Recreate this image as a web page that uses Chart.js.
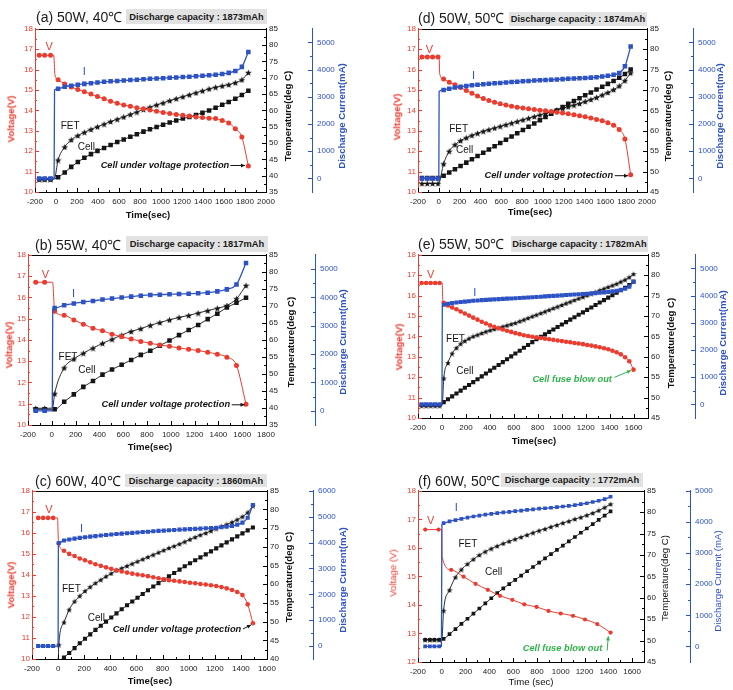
<!DOCTYPE html>
<html><head><meta charset="utf-8">
<script src="https://cdn.jsdelivr.net/npm/chart.js@4.4.1/dist/chart.umd.min.js"></script>
<style>
html,body{margin:0;padding:0;background:#fff}
body{position:relative;width:733px;height:690px;overflow:hidden;font-family:'Liberation Sans',Arial,sans-serif}
canvas{position:absolute}
.lbl{position:absolute;white-space:nowrap;line-height:1}
.rot{transform:translate(-50%,-50%) rotate(-90deg);font-weight:bold;font-size:9.6px}
.ctr{transform:translate(-50%,-50%);font-weight:bold;font-size:9.6px}
.ttl{font-size:14px;color:#1a1a1a;transform:translateY(-50%)}
.cap{position:absolute;background:#e2e2e2;font-weight:bold;font-size:9.3px;color:#1a1a1a;display:flex;align-items:center;justify-content:center;white-space:nowrap}
</style></head><body>
<script>
// ---------- tick labels ----------
const xTicks2000 = [-200,0,200,400,600,800,1000,1200,1400,1600,1800,2000];
const xTicks1800 = [-200,0,200,400,600,800,1000,1200,1400,1600,1800];
const xTicks1600 = [-200,0,200,400,600,800,1000,1200,1400,1600];
const voltTicks10 = [10,11,12,13,14,15,16,17,18];
const voltTicks12 = [12,13,14,15,16,17,18];
const tempTicks35 = [35,40,45,50,55,60,65,70,75,80,85];
const tempTicks40 = [40,45,50,55,60,65,70,75,80,85];
const tempTicks45 = [45,50,55,60,65,70,75,80,85];
const currTicks5000 = [0,1000,2000,3000,4000,5000];
const currTicks6000 = [0,1000,2000,3000,4000,5000,6000];

// ---------- (a) 50W, 40C ----------
const aPreTime = [-160,-108,-52];
const aPreVolt = [16.7,16.7,16.7];
const aPreCurr = [0,0,0];
const aPreFet = [38.9,38.9,38.9];
const aPreCell = [38.9,38.9,38.9];
const aVoltJump = [[-22,16.7],[-10,15.75]];
const aCurrJump = [[-18,0],[-14,3250]];
const aFetJump = [[-15,39.1]];
const aCellJump = [[-15,39.0]];
const aTime = [20,83,145,208,270,333,395,458,520,583,645,708,770,833,895,958,1020,1083,1145,1208,1270,1333,1395,1458,1520,1583,1645,1708,1770,1832];
const aVolt = [15.5,15.3,15.15,15.02,14.92,14.8,14.68,14.57,14.45,14.35,14.27,14.2,14.13,14.08,14.02,13.96,13.9,13.85,13.8,13.76,13.72,13.68,13.65,13.62,13.6,13.5,13.38,13.1,12.7,11.28];
const aCurr = [3300,3370,3410,3445,3475,3500,3525,3550,3570,3585,3600,3615,3630,3645,3660,3675,3685,3700,3710,3725,3740,3755,3770,3790,3810,3840,3880,3950,4100,4650];
const aFet = [44.8,48.8,51.0,52.3,53.3,54.2,55.0,55.8,56.6,57.3,58.0,58.8,59.5,60.3,61.0,61.7,62.3,63.0,63.6,64.2,64.8,65.4,66.0,66.6,67.1,67.5,67.9,68.5,69.4,71.6];
const aCell = [39.5,41.0,42.7,44.2,45.5,46.6,47.6,48.5,49.4,50.3,51.1,51.9,52.7,53.5,54.2,54.9,55.6,56.3,56.9,57.5,58.0,58.6,59.3,60.0,60.8,61.7,62.6,63.6,64.7,66.0];

// ---------- (b) 55W, 40C ----------
const bPreTime = [-135,-60];
const bPreVolt = [16.71,16.71];
const bPreCurr = [0,0];
const bPreFet = [39.9,39.9];
const bPreCell = [39.6,39.6];
const bVoltJump = [[7,16.71]];
const bCurrJump = [[4,0],[8,3600]];
const bFetJump = [[6,40.0]];
const bCellJump = [];
const bTime = [24,104,185,265,346,426,506,587,667,748,828,908,989,1069,1150,1230,1310,1391,1471,1552,1632];
const bVolt = [15.35,15.16,14.94,14.74,14.55,14.43,14.27,14.15,14.04,13.93,13.84,13.76,13.7,13.62,13.56,13.5,13.42,13.33,13.19,12.8,10.98];
const bCurr = [3620,3724,3782,3840,3875,3921,3956,3991,4026,4060,4084,4095,4107,4118,4130,4141,4165,4211,4281,4455,5209];
const bFet = [44.2,51.8,54.4,56.1,57.6,59.0,60.2,61.4,62.5,63.3,64.3,65.1,65.9,66.6,67.2,67.9,68.6,69.3,70.1,72.1,76.0];
const bCell = [39.6,41.8,44.0,46.2,47.9,49.8,51.3,52.7,54.1,55.6,56.8,58.3,59.8,61.4,62.9,64.4,66.1,67.7,69.5,70.9,72.4];

// ---------- (c) 60W, 40C ----------
const cPreTime = [-153,-115,-77,-38];
const cPreVolt = [16.71,16.71,16.71,16.71];
const cPreCurr = [0,0,0,0];
const cPreFet = [38,38,38,38];
const cPreCell = [38,38,38,38];
const cVoltJump = [[-4,16.71],[1,15.75]];
const cCurrJump = [[0,0],[2,3900]];
const cFetJump = [[0,38.5]];
const cCellJump = [];
const cTime = [5,45,85,126,166,206,246,286,327,367,407,447,487,528,568,608,648,688,729,769,809,849,889,930,970,1010,1050,1090,1131,1171,1211,1251,1291,1332,1372,1412,1452,1492];
const cVolt = [15.5,15.15,15.0,14.9,14.78,14.7,14.6,14.51,14.43,14.36,14.29,14.22,14.16,14.11,14.06,14.02,13.98,13.94,13.89,13.84,13.79,13.75,13.72,13.69,13.66,13.63,13.6,13.57,13.54,13.51,13.47,13.42,13.36,13.28,13.19,13.04,12.6,11.7];
const cCurr = [3985,4080,4120,4150,4180,4205,4230,4250,4270,4290,4310,4330,4345,4360,4375,4390,4405,4420,4435,4450,4462,4474,4486,4498,4510,4520,4530,4540,4550,4560,4572,4590,4610,4640,4690,4770,4960,5450];
const cFet = [43.8,49.8,53.2,55.4,56.9,58.2,59.3,60.3,61.2,62.1,62.9,63.7,64.3,64.9,65.5,66.1,66.7,67.3,67.9,68.5,69.1,69.7,70.2,70.8,71.4,72.0,72.6,73.2,73.7,74.3,74.9,75.5,76.0,76.6,77.3,78.1,79.2,81.0];
const cCell = [39.4,40.4,41.6,42.9,44.2,45.4,46.6,47.8,48.9,50.0,51.1,52.2,53.3,54.4,55.4,56.4,57.4,58.4,59.4,60.3,61.2,62.1,63.0,63.9,64.8,65.6,66.4,67.2,68.0,68.8,69.6,70.4,71.2,72.0,72.8,73.6,74.4,75.2];

// ---------- (d) 50W, 50C ----------
const dPreTime = [-162,-111,-60,-8];
const dPreVolt = [16.62,16.62,16.62,16.62];
const dPreCurr = [0,0,0,0];
const dPreFet = [47.1,47.1,47.1,47.1];
const dPreCell = [48.4,48.4,48.4,48.4];
const dVoltJump = [[3,16.62],[8,15.8]];
const dCurrJump = [[0,0],[3,3200]];
const dFetJump = [[3,47.3]];
const dCellJump = [];
const dTime = [46,100,155,209,264,318,372,427,481,536,590,645,699,753,808,862,917,971,1025,1080,1134,1189,1243,1298,1352,1406,1461,1515,1570,1624,1679,1733,1788,1843];
const dVolt = [15.54,15.38,15.26,15.12,14.98,14.84,14.7,14.58,14.48,14.4,14.32,14.26,14.2,14.16,14.12,14.08,14.04,14.01,13.98,13.95,13.91,13.87,13.83,13.79,13.74,13.69,13.63,13.56,13.49,13.4,13.27,13.06,12.6,10.85];
const dCurr = [3250,3300,3340,3370,3400,3425,3445,3465,3480,3495,3510,3525,3540,3555,3570,3585,3598,3610,3620,3630,3640,3650,3660,3670,3680,3690,3705,3720,3745,3770,3810,3870,4120,4850];
const dFet = [51.9,55.0,56.6,57.6,58.3,58.9,59.4,59.9,60.3,60.7,61.1,61.5,61.9,62.3,62.7,63.1,63.5,63.9,64.3,64.7,65.1,65.5,65.9,66.3,66.7,67.2,67.7,68.2,68.8,69.4,70.1,71.0,72.3,74.2];
const dCell = [49.0,49.8,50.6,51.4,52.2,53.0,53.8,54.6,55.4,56.2,57.0,57.8,58.6,59.4,60.2,61.0,61.8,62.6,63.4,64.2,65.0,65.8,66.6,67.3,68.0,68.7,69.4,70.1,70.8,71.5,72.2,73.0,73.9,75.0];

// ---------- (e) 55W, 50C ----------
const ePreTime = [-170,-132,-95,-57,-20];
const ePreVolt = [16.62,16.62,16.62,16.62,16.62];
const ePreCurr = [0,0,0,0,0];
const ePreFet = [48.0,48.0,48.0,48.0,48.0];
const ePreCell = [48.2,48.2,48.2,48.2,48.2];
const eVoltJump = [[2,16.62],[6,15.8]];
const eCurrJump = [[0,0],[3,3600]];
const eFetJump = [[2,48.2]];
const eCellJump = [];
const eTime = [15,50,85,121,156,191,226,261,297,332,367,402,437,473,508,543,578,613,649,684,719,754,789,825,860,895,930,965,1001,1036,1071,1106,1141,1177,1212,1247,1282,1317,1353,1388,1423,1458,1493,1529,1564,1599];
const eVolt = [15.65,15.52,15.42,15.33,15.22,15.12,15.02,14.92,14.82,14.72,14.63,14.54,14.47,14.4,14.34,14.28,14.22,14.16,14.11,14.06,14.02,13.98,13.95,13.92,13.89,13.86,13.83,13.8,13.77,13.74,13.71,13.68,13.65,13.62,13.58,13.55,13.51,13.47,13.42,13.37,13.3,13.22,13.12,12.98,12.78,12.37];
const eCurr = [3665,3700,3725,3745,3765,3780,3795,3808,3820,3832,3843,3853,3862,3871,3880,3888,3896,3904,3912,3920,3930,3940,3950,3960,3970,3980,3990,4000,4010,4020,4030,4040,4050,4060,4070,4080,4092,4105,4120,4135,4155,4180,4210,4250,4330,4520];
const eFet = [54.7,58.5,60.8,62.2,63.2,63.9,64.5,65.0,65.4,65.8,66.2,66.5,66.8,67.1,67.4,67.7,68.0,68.3,68.7,69.1,69.5,69.9,70.3,70.7,71.1,71.5,71.9,72.3,72.7,73.1,73.5,73.9,74.3,74.7,75.1,75.5,75.9,76.3,76.7,77.1,77.5,77.9,78.4,78.9,79.5,80.3];
const eCell = [48.9,49.6,50.3,51.0,51.7,52.4,53.1,53.8,54.5,55.2,55.9,56.6,57.3,58.0,58.7,59.4,60.1,60.8,61.5,62.2,62.9,63.6,64.3,64.9,65.5,66.1,66.7,67.3,67.9,68.5,69.1,69.7,70.3,70.9,71.5,72.1,72.7,73.3,73.9,74.5,75.1,75.7,76.3,76.9,77.6,78.4];

// ---------- (f) 60W, 50C ----------
const fPreTime = [-140,-100,-62,-22];
const fPreCurr = [0,0,0,0];
const fPreFet = [50.2,50.2,50.2,50.2];
const fPreCell = [50.2,50.2,50.2,50.2];
const fVoltPreTime = [-139,-27];
const fPreVolt = [16.64,16.64];
const fVoltJump = [[-2,16.64],[2,15.7]];
const fCurrJump = [[-3,0],[1,3900]];
const fFetJump = [[1,50.4]];
const fCellJump = [];
const fTime = [15,65,115,165,216,266,316,366,416,466,517,567,617,667,717,767,818,868,918,968,1018,1068,1119,1169,1219,1269,1319,1369,1419];
const fCurr = [3964,4020,4060,4100,4140,4175,4205,4235,4260,4285,4305,4325,4345,4365,4385,4405,4425,4440,4455,4475,4495,4515,4540,4570,4600,4640,4680,4730,4810];
const fFet = [57.0,61.8,64.8,66.6,67.9,69.0,70.0,70.8,71.5,72.1,72.7,73.2,73.7,74.2,74.7,75.2,75.7,76.1,76.6,77.0,77.5,77.9,78.4,78.8,79.3,79.8,80.4,81.1,81.9];
const fCell = [50.4,51.5,52.7,53.9,55.1,56.3,57.5,58.7,59.9,61.1,62.2,63.2,64.2,65.2,66.2,67.2,68.2,69.2,70.2,71.2,72.2,73.2,74.2,75.2,76.2,77.2,78.2,79.2,80.2];
const fVoltTime = [79,183,284,387,490,593,694,797,897,1000,1103,1204,1307,1419];
const fVolt = [15.23,14.99,14.74,14.53,14.32,14.18,14.02,13.93,13.79,13.7,13.62,13.49,13.33,13.03];

// ---------- rendering ----------
const FONT = "'Liberation Sans', Arial, sans-serif";
const RED = '#ec3b2f', BLUE = '#2d52c4', BLK = '#151515', GREEN = '#2fb34a';

function pts(preT, preY, jumps, t, y) {
  const out = preT.map((x, k) => ({x: x, y: preY[k]}));
  jumps.forEach(j => out.push({x: j[0], y: j[1], hide: true}));
  t.forEach((x, k) => out.push({x: x, y: y[k]}));
  return out;
}
function starImg(size) {
  const c = document.createElement('canvas'); c.width = c.height = size;
  const g = c.getContext('2d'); g.fillStyle = BLK; g.beginPath();
  for (let k = 0; k < 10; k++) {
    const r = k % 2 ? size * 0.22 : size * 0.5;
    const a = -Math.PI / 2 + k * Math.PI / 5;
    g.lineTo(size / 2 + r * Math.cos(a), size / 2 + r * Math.sin(a) + size * 0.06);
  }
  g.closePath(); g.fill(); return c;
}
const framePlugin = {
  id: 'frame',
  afterDraw(chart) {
    const c = chart.ctx, a = chart.chartArea;
    c.save(); c.lineWidth = 1;
    c.strokeStyle = '#000'; c.beginPath();
    c.moveTo(a.left, Math.round(a.top) + 0.5); c.lineTo(a.right, Math.round(a.top) + 0.5); c.stroke();
    ['x', 'yV', 'yT', 'yI'].forEach(id => {
      const s = chart.scales[id];
      c.strokeStyle = s.options.border.color;
      const vals = s.ticks.map(t => t.value);
      const marks = vals.map(v => [v, 4]);
      for (let k = 0; k < vals.length - 1; k++) marks.push([(vals[k] + vals[k + 1]) / 2, 2]);
      marks.forEach(m => {
        const p = Math.round(s.getPixelForValue(m[0])) + 0.5;
        c.beginPath();
        if (id === 'x') { c.moveTo(p, s.top); c.lineTo(p, s.top - m[1]); }
        else if (id === 'yV') { c.moveTo(s.right, p); c.lineTo(s.right + m[1], p); }
        else { c.moveTo(s.left, p); c.lineTo(s.left - m[1], p); }
        c.stroke();
      });
    });
    c.restore();
  }
};
function notesPlugin(items) {
  return {
    id: 'notes',
    afterDatasetsDraw(chart) {
      const c = chart.ctx, xs = chart.scales.x, ys = chart.scales.yV;
      items.forEach(n => {
        c.save();
        c.font = n.font + ' ' + FONT; c.fillStyle = n.color;
        c.textAlign = n.align || 'center'; c.textBaseline = 'middle';
        c.fillText(n.text, xs.getPixelForValue(n.x), ys.getPixelForValue(n.y));
        if (n.arrow) {
          const x1 = xs.getPixelForValue(n.arrow[0]), y1 = ys.getPixelForValue(n.arrow[1]);
          const x2 = xs.getPixelForValue(n.arrow[2]), y2 = ys.getPixelForValue(n.arrow[3]);
          c.strokeStyle = n.color; c.lineWidth = 1;
          c.beginPath(); c.moveTo(x1, y1); c.lineTo(x2, y2); c.stroke();
          const ang = Math.atan2(y2 - y1, x2 - x1), h = 4.5;
          c.beginPath(); c.moveTo(x2, y2);
          c.lineTo(x2 - h * Math.cos(ang - 0.45), y2 - h * Math.sin(ang - 0.45));
          c.lineTo(x2 - h * Math.cos(ang + 0.45), y2 - h * Math.sin(ang + 0.45));
          c.closePath(); c.fill();
        }
        c.restore();
      });
    }
  };
}
function addDiv(x, y, text, cls, extra) {
  const d = document.createElement('div');
  d.className = cls; d.textContent = text;
  d.style.left = x + 'px'; d.style.top = y + 'px';
  if (extra) Object.assign(d.style, extra);
  document.body.appendChild(d);
  return d;
}
function ds(data, axis, color, style, r, bw) {
  return {
    data: data, yAxisID: axis, borderColor: color, backgroundColor: color, borderWidth: bw,
    pointStyle: style, pointRadius: c => (c.raw && c.raw.hide) ? 0 : r, pointHoverRadius: 0,
    pointBorderWidth: 0, cubicInterpolationMode: 'monotone', fill: false
  };
}
function tickAxis(min, max, ticks, color, pad, fit) {
  return {
    min: min, max: max, afterFit: fit,
    afterBuildTicks: s => { s.ticks = ticks.map(v => ({value: v})); },
    ticks: {autoSkip: false, maxRotation: 0, minRotation: 0, padding: pad, color: color,
      font: {family: FONT, size: 8}, callback: v => String(v)},
    grid: {drawOnChartArea: false, drawTicks: false},
    border: {display: true, color: color, width: 1}
  };
}
function panel(p) {
  const LW = 30, RW = 40, TP = 8, BH = 18;
  const w = (p.xc - p.L) + LW + RW, h = (p.B - p.T) + TP + BH;
  const cv = document.createElement('canvas');
  cv.width = w; cv.height = h;
  cv.style.left = (p.L - LW) + 'px'; cv.style.top = (p.T - TP) + 'px';
  cv.style.width = w + 'px'; cv.style.height = h + 'px';
  document.body.appendChild(cv);
  const star = starImg(p.star);
  const x = tickAxis(p.x[0], p.x[1], p.x[2], '#222', 5, s => { s.height = BH; });
  x.type = 'linear'; x.position = 'bottom'; x.border.color = '#000';
  const yV = tickAxis(p.v[0], p.v[1], p.v[2], RED, 2, s => { s.width = LW; });
  yV.position = 'left';
  const yT = tickAxis(p.t[0], p.t[1], p.t[2], '#222', 3, s => { s.width = p.xc - p.R; });
  yT.position = 'right'; yT.border.color = '#000';
  const yI = tickAxis(p.i[0], p.i[1], p.i[2], BLUE, 5, s => { s.width = RW; });
  yI.position = 'right';
  new Chart(cv, {
    type: 'line',
    data: {datasets: [
      ds(p.I, 'yI', BLUE, 'rect', p.sq, 1.3),
      ds(p.V, 'yV', RED, 'circle', p.rc, 1),
      ds(p.F, 'yT', BLK, star, 3, 0.9),
      ds(p.C, 'yT', BLK, 'rect', p.sq, 0.9)
    ]},
    options: {
      responsive: false, animation: false, devicePixelRatio: 1,
      layout: {padding: {top: TP, left: 0, right: 0, bottom: 0}},
      plugins: {legend: {display: false}, tooltip: {enabled: false}},
      scales: {x: x, yV: yV, yT: yT, yI: yI}
    },
    plugins: [framePlugin, notesPlugin(p.notes)]
  });
  const wt = p.bold ? 'bold' : 'normal';
  addDiv(p.title[0], p.title[1], p.title[2], 'lbl ttl');
  const b = addDiv(p.box[0], p.box[1], p.box[4], 'cap');
  b.style.width = p.box[2] + 'px'; b.style.height = p.box[3] + 'px';
  addDiv(p.vt[0], p.vt[1], p.vt[2], 'lbl rot', {color: RED, fontWeight: wt});
  addDiv(p.tt[0], p.tt[1], p.tt[2], 'lbl rot', {color: '#111', fontWeight: wt});
  addDiv(p.it[0], p.it[1], p.it[2], 'lbl rot', {color: BLUE, fontWeight: wt});
  addDiv(p.xt[0], p.xt[1], p.xt[2], 'lbl ctr', {color: '#111', fontWeight: wt});
}
const UVP = 'Cell under voltage protection', FUSE = 'Cell fuse blow out';
const nf = 'italic bold 9.3px', lf = '11px', cf = '10px';

panel({L:35, R:266, T:27, B:192, xc:312,
  x:[-200,2000,xTicks2000], v:[10,18,voltTicks10], t:[35,85,tempTicks35], i:[-500,5500,currTicks5000],
  V:pts(aPreTime,aPreVolt,aVoltJump,aTime,aVolt), I:pts(aPreTime,aPreCurr,aCurrJump,aTime,aCurr),
  F:pts(aPreTime,aPreFet,aFetJump,aTime,aFet), C:pts(aPreTime,aPreCell,aCellJump,aTime,aCell),
  sq:3.2, rc:2.5, star:7, bold:true,
  notes:[{text:'V',x:-65,y:17.1,color:RED,font:lf},{text:'I',x:270,y:15.9,color:BLUE,font:lf},
    {text:'FET',x:135,y:13.2,color:BLK,font:cf},{text:'Cell',x:290,y:12.2,color:BLK,font:cf},
    {text:UVP,x:1650,y:11.3,align:'right',color:BLK,font:nf,arrow:[1660,11.3,1800,11.3]}],
  title:[36,17,'(a) 50W, 40℃'], box:[126,9,141,15,'Discharge capacity : 1873mAh'],
  vt:[11,119,'Voltage(V)'], tt:[288,116,'Temperature(deg C)'], it:[342,116,'Discharge Current(mA)'], xt:[148,215,'Time(sec)']});

panel({L:418, R:647, T:27, B:192, xc:693,
  x:[-200,2000,xTicks2000], v:[10,18,voltTicks10], t:[45,85,tempTicks45], i:[-500,5500,currTicks5000],
  V:pts(dPreTime,dPreVolt,dVoltJump,dTime,dVolt), I:pts(dPreTime,dPreCurr,dCurrJump,dTime,dCurr),
  F:pts(dPreTime,dPreFet,dFetJump,dTime,dFet), C:pts(dPreTime,dPreCell,dCellJump,dTime,dCell),
  sq:3.2, rc:2.5, star:7, bold:true,
  notes:[{text:'V',x:-90,y:16.95,color:RED,font:lf},{text:'I',x:333,y:15.7,color:BLUE,font:lf},
    {text:'FET',x:190,y:13.07,color:BLK,font:cf},{text:'Cell',x:247,y:12.06,color:BLK,font:cf},
    {text:UVP,x:1674,y:10.8,align:'right',color:BLK,font:nf,arrow:[1690,10.8,1818,10.8]}],
  title:[418,18,'(d) 50W, 50℃'], box:[509,12,138,14,'Discharge capacity : 1874mAh'],
  vt:[397,117,'Voltage(V)'], tt:[668,116,'Temperature(deg C)'], it:[720,116,'Discharge Current(mA)'], xt:[530,212,'Time(sec)']});

panel({L:28, R:266, T:253, B:425, xc:315,
  x:[-200,1800,xTicks1800], v:[10,18,voltTicks10], t:[35,85,tempTicks35], i:[-500,5500,currTicks5000],
  V:pts(bPreTime,bPreVolt,bVoltJump,bTime,bVolt), I:pts(bPreTime,bPreCurr,bCurrJump,bTime,bCurr),
  F:pts(bPreTime,bPreFet,bFetJump,bTime,bFet), C:pts(bPreTime,bPreCell,bCellJump,bTime,bCell),
  sq:3.2, rc:2.5, star:7, bold:true,
  notes:[{text:'V',x:-54,y:17.04,color:RED,font:lf},{text:'I',x:183,y:16.14,color:BLUE,font:lf},
    {text:'FET',x:136,y:13.19,color:BLK,font:cf},{text:'Cell',x:295,y:12.57,color:BLK,font:cf},
    {text:UVP,x:1498,y:10.95,align:'right',color:BLK,font:nf,arrow:[1512,10.95,1620,10.95]}],
  title:[35,245,'(b) 55W, 40℃'], box:[126,236,142,16,'Discharge capacity : 1817mAh'],
  vt:[9,345,'Voltage(V)'], tt:[291,342,'Temperature(deg C)'], it:[343,342,'Discharge Current(mA)'], xt:[150,447,'Time(sec)']});

panel({L:418, R:648, T:253, B:418, xc:695,
  x:[-200,1720,xTicks1600], v:[10,18,voltTicks10], t:[45,85,tempTicks45], i:[-500,5500,currTicks5000],
  V:pts(ePreTime,ePreVolt,eVoltJump,eTime,eVolt), I:pts(ePreTime,ePreCurr,eCurrJump,eTime,eCurr),
  F:pts(ePreTime,ePreFet,eFetJump,eTime,eFet), C:pts(ePreTime,ePreCell,eCellJump,eTime,eCell),
  sq:2.9, rc:2.3, star:6, bold:true,
  notes:[{text:'V',x:-94,y:16.99,color:RED,font:lf},{text:'I',x:274,y:16.13,color:BLUE,font:lf},
    {text:'FET',x:113,y:13.86,color:BLK,font:cf},{text:'Cell',x:191,y:12.29,color:BLK,font:cf},
    {text:FUSE,x:1419,y:11.91,align:'right',color:GREEN,font:nf,arrow:[1438,11.99,1578,12.33]}],
  title:[418,244,'(e) 55W, 50℃'], box:[511,236,137,16,'Discharge capacity : 1782mAh'],
  vt:[399,347,'Voltage(V)'], tt:[671,343,'Temperature(deg C)'], it:[723,343,'Discharge Current(mA)'], xt:[534,441,'Time(sec)']});

panel({L:32, R:267, T:489, B:659, xc:313,
  x:[-200,1600,xTicks1600], v:[10,18,voltTicks10], t:[40,85,tempTicks40], i:[-500,6000,currTicks6000],
  V:pts(cPreTime,cPreVolt,cVoltJump,cTime,cVolt), I:pts(cPreTime,cPreCurr,cCurrJump,cTime,cCurr),
  F:pts(cPreTime,cPreFet,cFetJump,cTime,cFet), C:pts(cPreTime,cPreCell,cCellJump,cTime,cCell),
  sq:2.9, rc:2.3, star:6, bold:true,
  notes:[{text:'V',x:-71,y:17.07,color:RED,font:lf},{text:'I',x:179,y:16.19,color:BLUE,font:lf},
    {text:'FET',x:102,y:13.32,color:BLK,font:cf},{text:'Cell',x:293,y:11.95,color:BLK,font:cf},
    {text:UVP,x:1403,y:11.4,align:'right',color:BLK,font:nf,arrow:[1416,11.43,1478,11.62]}],
  title:[35,481,'(c) 60W, 40℃'], box:[125,474,142,13,'Discharge capacity : 1860mAh'],
  vt:[11,585,'Voltage(V)'], tt:[289,577,'Temperature(deg C)'], it:[343,580,'Discharge Current(mA)'], xt:[150,681,'Time(sec)']});

panel({L:418, R:644, T:489, B:662, xc:690,
  x:[-200,1700,xTicks1600], v:[12,18,voltTicks12], t:[45,85,tempTicks45], i:[-500,5000,currTicks5000],
  V:pts(fVoltPreTime,fPreVolt,fVoltJump,fVoltTime,fVolt), I:pts(fPreTime,fPreCurr,fCurrJump,fTime,fCurr),
  F:pts(fPreTime,fPreFet,fFetJump,fTime,fFet), C:pts(fPreTime,fPreCell,fCellJump,fTime,fCell),
  sq:2.6, rc:2.1, star:6, bold:false,
  notes:[{text:'V',x:-94,y:16.95,color:RED,font:lf},{text:'I',x:121,y:17.41,color:BLUE,font:lf},
    {text:'FET',x:219,y:16.12,color:BLK,font:cf},{text:'Cell',x:436,y:15.14,color:BLK,font:cf},
    {text:FUSE,x:1349,y:12.46,align:'right',color:GREEN,font:nf,arrow:[1390,12.4,1400,12.9]}],
  title:[418,481,'(f) 60W, 50℃'], box:[501,473,142,14,'Discharge capacity : 1772mAh'],
  vt:[393,573,'Voltage (V)'], tt:[665,578,'Temperature(deg C)'], it:[718,581,'Discharge Current (mA)'], xt:[531,682,'Time (sec)']});
</script>
</body></html>
